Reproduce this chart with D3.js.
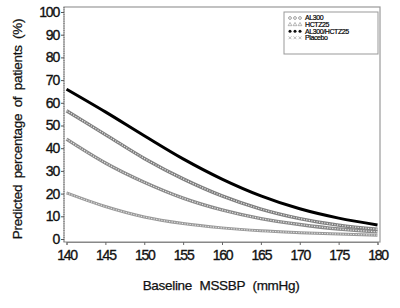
<!DOCTYPE html>
<meta charset="UTF-8">
<style>
body { margin: 0; background: #fff; }
text { font-family: "Liberation Sans", Arial, sans-serif; }
.tick text { font-size: 14px; letter-spacing: -1.2px; fill: #111; stroke: #111; stroke-width: 0.35px; }
</style>
<body>
<script src="https://cdn.jsdelivr.net/npm/d3@7"></script>
<script>

// every 5 mmHg
var sbp = [140, 145, 150, 155, 160, 165, 170, 175, 180];
var combo = [66, 56, 45.5, 35.3, 26.4, 19, 13.3, 9.2, 6.2];
var al300 = [56.5, 46, 35.5, 26.5, 19, 13.2, 9, 6.1, 4.3];
var hctz = [44, 33.5, 25, 18, 12.8, 9, 6.4, 4.4, 3.2];
var placebo = [20.3, 14.3, 9.7, 6.8, 4.9, 3.6, 2.8, 2.2, 1.7];
var xTicks = [140, 145, 150, 155, 160, 165, 170, 175, 180];
var yTicks = [0, 10, 20, 30, 40, 50, 60, 70, 80, 90, 100];
var legendNames = ["AL300", "HCTZ25", "AL300/HCTZ25", "Placebo"];

var W = 400, H = 308;
var svg = d3.select("body").append("svg")
    .attr("width", W).attr("height", H);

var x = d3.scaleLinear().domain([140, 180]).range([66.5, 377.5]);
var y = d3.scaleLinear().domain([0, 100]).range([239, 12]);

// frame
svg.append("rect")
    .attr("x", 64).attr("y", 7).attr("width", 316).attr("height", 235)
    .attr("fill", "none").attr("stroke", "#999").attr("stroke-width", 1.2);

// dotted left axis
svg.append("line").attr("x1", 64).attr("x2", 64).attr("y1", 7).attr("y2", 242)
    .attr("stroke", "#777").attr("stroke-width", 1.2).attr("stroke-dasharray", "1 1.3");

var yAxis = svg.append("g")
    .attr("transform", "translate(64,0)")
    .call(d3.axisLeft(y).tickValues(yTicks).tickSize(3).tickPadding(2));
yAxis.select(".domain").remove();
yAxis.selectAll(".tick line").attr("stroke", "#555");

var xAxis = svg.append("g")
    .attr("transform", "translate(0,242)")
    .call(d3.axisBottom(x).tickValues(xTicks).tickSize(3).tickPadding(5));
xAxis.select(".domain").attr("stroke", "#888");
xAxis.selectAll(".tick line").attr("stroke", "#666");

var line = d3.line()
    .x(function(d, i) { return x(sbp[i]); })
    .y(function(d) { return y(d); })
    .curve(d3.curveMonotoneX);

// hatched gray lines (dense markers in the original)
function hatched(vals, col, w) {
  svg.append("path").attr("d", line(vals))
      .attr("fill", "none").attr("stroke", col).attr("stroke-width", w);
  svg.append("path").attr("d", line(vals))
      .attr("fill", "none").attr("stroke", "#e8e8e8").attr("stroke-width", w * 0.35)
      .attr("stroke-dasharray", "1.2 1.4");
}
hatched(placebo, "#9a9a9a", 3);
hatched(hctz, "#8a8a8a", 3.4);
hatched(al300, "#7f7f7f", 3.4);

svg.append("path").attr("d", line(combo))
    .attr("fill", "none").attr("stroke", "#000").attr("stroke-width", 3);

// legend
var lg = svg.append("g");
lg.append("rect").attr("x", 284).attr("y", 12).attr("width", 94).attr("height", 42)
    .attr("fill", "#fff").attr("stroke", "#999").attr("stroke-width", 1);

legendNames.forEach(function(name, i) {
  var yy = 18 + i * 6.6;
  [290, 295, 300].forEach(function(xx) {
    if (i == 0) {
      lg.append("circle").attr("cx", xx).attr("cy", yy).attr("r", 1.4)
          .attr("fill", "none").attr("stroke", "#777").attr("stroke-width", 0.7);
    } else if (i == 1) {
      lg.append("path").attr("d", d3.symbol(d3.symbolTriangle, 6)())
          .attr("transform", "translate(" + xx + "," + yy + ")")
          .attr("fill", "none").attr("stroke", "#888").attr("stroke-width", 0.6);
    } else if (i == 2) {
      lg.append("circle").attr("cx", xx).attr("cy", yy).attr("r", 1.5).attr("fill", "#111");
    } else {
      lg.append("path").attr("d", "M-1.4,-1.4L1.4,1.4M-1.4,1.4L1.4,-1.4")
          .attr("transform", "translate(" + xx + "," + yy + ")")
          .attr("stroke", "#999").attr("stroke-width", 0.7);
    }
  });
  lg.append("text").attr("x", 305).attr("y", yy + 2.4)
      .attr("font-size", 7).attr("letter-spacing", -0.4).attr("fill", "#000")
      .attr("stroke", "#000").attr("stroke-width", 0.2)
      .text(name);
});

// axis titles
svg.append("text")
    .attr("transform", "translate(22,129) rotate(-90)")
    .attr("text-anchor", "middle").attr("font-size", 13.5)
    .attr("word-spacing", 3).attr("letter-spacing", -0.3).attr("fill", "#111")
    .attr("stroke", "#111").attr("stroke-width", 0.25)
    .text("Predicted percentage of patients (%)");

svg.append("text")
    .attr("x", 221).attr("y", 290)
    .attr("text-anchor", "middle").attr("font-size", 13.5)
    .attr("word-spacing", 4).attr("letter-spacing", -0.3).attr("fill", "#111")
    .attr("stroke", "#111").attr("stroke-width", 0.25)
    .text("Baseline MSSBP (mmHg)");

</script>
</body>
